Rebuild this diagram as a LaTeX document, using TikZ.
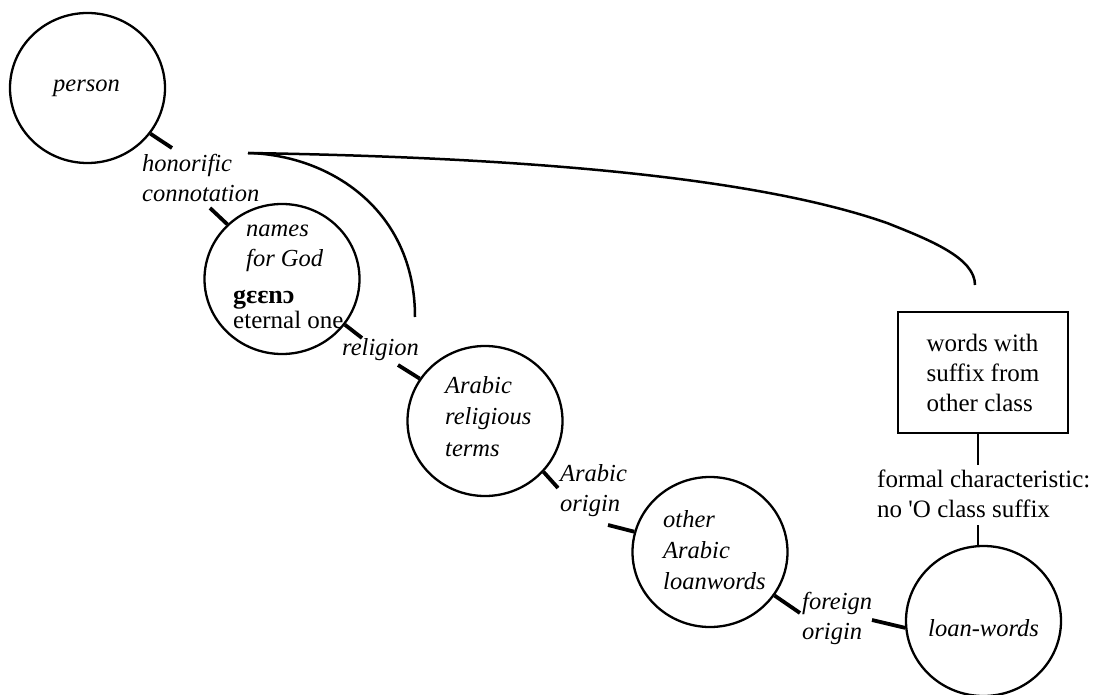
\documentclass[tikz,border=0pt]{standalone}
\usepackage{fontspec}
\setmainfont{Liberation Serif}
\usetikzlibrary{shapes.geometric}
\newcommand{\mlines}[1]{\begin{tabular}[t]{@{}l@{}}#1\end{tabular}}
\begin{document}
\begin{tikzpicture}[x=1pt,y=-1pt,
  ring/.style={draw, ellipse, line width=2.3pt, minimum width=155pt, minimum height=150pt, inner sep=0pt},
  stub/.style={line width=3.8pt},
  curve/.style={line width=2.5pt},
  it/.style={font=\fontsize{24.5}{30}\selectfont\itshape, inner sep=0pt, anchor=base west},
  rm/.style={font=\fontsize{25}{30}\selectfont, inner sep=0pt, anchor=base west},
  boxst/.style={draw, line width=2.4pt, minimum width=170pt, minimum height=121pt, align=left, inner sep=0pt, font=\fontsize{25}{30}\selectfont}]
\useasboundingbox (0,0) rectangle (1093,695);
% circles
\node[ring] (person) at (87.5,88) {};
\node[ring] (names) at (282,279) {};
\node[ring] (arabic) at (485,421) {};
\node[ring] (other) at (710,552) {};
\node[ring] (loan) at (983.5,621) {};
\node[boxst] (box) at (983,372.5) {words with\\suffix from\\other class};
% texts
\node[it] (tperson) at (53,92) {person};
\node[it] (thon) at (142,172) {\mlines{honorific\\connotation}};
\node[it] (tnames) at (246,237) {\mlines{names\\for God}};
\node[rm, font=\fontsize{26}{30}\selectfont\bfseries] (tgeeno) at (233,304) {gɛɛnɔ};
\node[rm] (teternal) at (233,328) {eternal one};
\node[it] (trel) at (342,355) {religion};
\node[it, font=\fontsize{24.5}{31.5}\selectfont\itshape] (tart) at (445,393) {\mlines{Arabic\\religious\\terms}};
\node[it] (tao) at (560,481) {\mlines{Arabic\\origin}};
\node[it, font=\fontsize{24.5}{31}\selectfont\itshape] (toal) at (663,527) {\mlines{other\\Arabic\\loanwords}};
\node[it] (tfo) at (802,609) {\mlines{foreign\\origin}};
\node[it] (tloan) at (928,636) {loan-words};
\node[rm] (tfc) at (877,487) {\mlines{formal characteristic:\\no \textquotesingle O class suffix}};
% connector ends
\coordinate (c1) at (172,148);
\coordinate (c2) at (210,208);
\coordinate (c3) at (362,338);
\coordinate (c4) at (398,365);
\coordinate (c5) at (558,488);
\coordinate (c6) at (608,525);
\coordinate (c7) at (800,613);
\coordinate (c8) at (872,620);
\coordinate (c9) at (978,465);
\coordinate (c10) at (978,525);
\coordinate (hub) at (248,153);
\coordinate (e1) at (975,285);
\coordinate (e2) at (415,317);
% stubs
\draw[stub] (person.-36) -- (c1);
\draw[stub] (c2) -- (names.135);
\draw[stub] (names.-36) -- (c3);
\draw[stub] (c4) -- (arabic.147);
\draw[stub] (arabic.-41) -- (c5);
\draw[stub] (c6) -- (other.165);
\draw[stub] (other.-34) -- (c7);
\draw[stub] (c8) -- (loan.185);
\draw[line width=2.6pt] (c9 |- box.south) -- (c9);
\draw[line width=2.6pt] (c10) -- (c10 |- loan.north);
% curves
\draw[curve] (hub) .. controls (500,157) and (747,174) .. (887,223) .. controls (930,240) and (975,258) .. (e1);
\draw[curve] (hub) .. controls (330,155) and (415,210) .. (e2);
\end{tikzpicture}
\end{document}
